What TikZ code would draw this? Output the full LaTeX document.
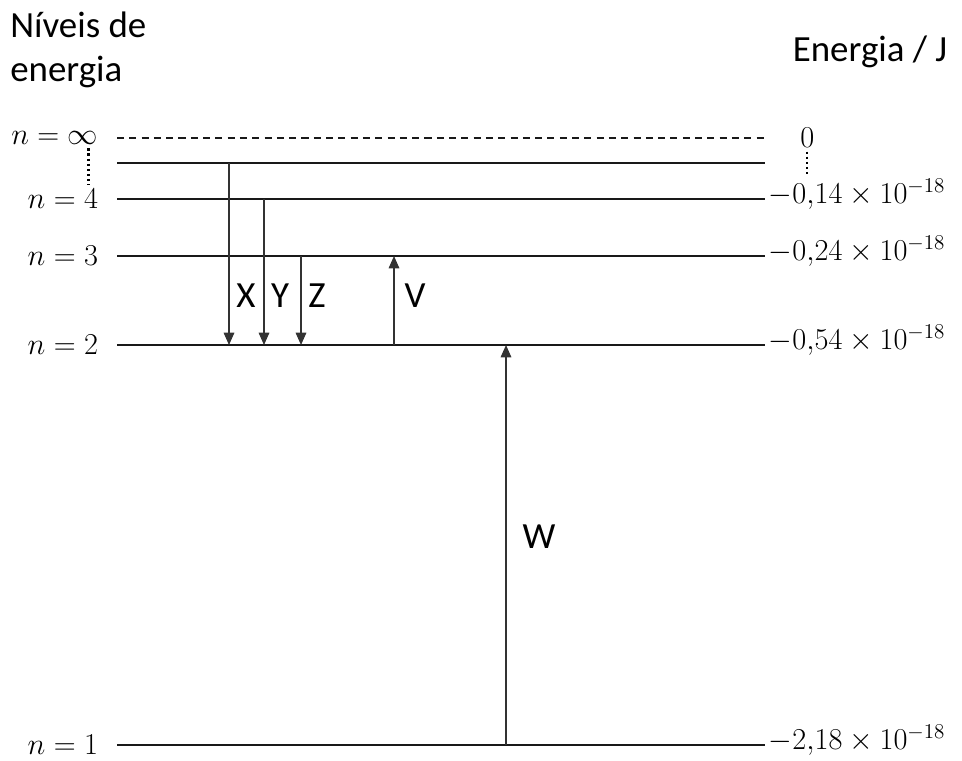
\documentclass[tikz,border=0pt]{standalone}
\usepackage{fontspec}
\setmainfont{Carlito}
\usetikzlibrary{positioning,arrows.meta}

\begin{document}
\begin{tikzpicture}[x=0.02cm, y=-0.02cm,
    lvl/.style={line width=1.6pt, draw=black!90},
    trans/.style={-{Triangle[length=7pt,width=6pt]}, line width=0.8pt, draw=black!80, fill=black},
    vdots/.style={line width=1.3pt, dash pattern=on 1.3pt off 1.6pt},
    nlab/.style={font=\fontsize{18}{22}\selectfont, inner sep=2pt},
    txt/.style={font=\fontsize{21}{25}\selectfont, inner sep=0pt},
  ]
  \useasboundingbox (0,0) rectangle (962,760);
  % níveis de energia
  \coordinate (inf-l) at (117,138);
  \coordinate (inf-r) at (764,138);
  \draw[line width=1.2pt, draw=black!90, dash pattern=on 4pt off 3pt] (inf-l) -- (inf-r);
  \foreach \k/\y in {5/163,4/199,3/256,2/345,1/745} {
    \coordinate (n\k-l) at (117,\y);
    \coordinate (n\k-r) at (765,\y);
    \draw[lvl] (n\k-l) -- (n\k-r);
  }
  % rótulos
  \node[nlab, left=0.3cm of inf-l] (t-inf) {$n=\infty$};
  \foreach \k in {4,3,2,1}
    \node[nlab, left=0.3cm of n\k-l] (t\k) {$n=\k$};
  \node[nlab, right=0.65cm of inf-r] (e-inf) {$0$};
  \foreach \k/\e in {4/{0{,}14},3/{0{,}24},2/{0{,}54},1/{2{,}18}}
    \node[nlab, right=0pt of n\k-r, anchor=mid west] (e\k) {$-\e\times10^{-18}$};
  \draw[vdots] ([xshift=-0.27cm]t-inf.south east) -- ([xshift=-0.27cm]t-inf.south east |- t4.north);
  \draw[vdots] (e-inf.south) -- (e-inf.south |- e4.north);
  \node[txt, anchor=north west, align=left] (niveis) at (10,12) {Níveis de\\energia};
  \node[txt] (energia) at (870,52) {Energia / J};
  % transições
  \foreach \x/\from/\to in {229/5/2,264/4/2,301/3/2,394/2/3,506/1/2}
    \draw[trans] (\x,0 |- n\from-l) -- (\x,0 |- n\to-l);
  \node[txt] (lX) at (246,296) {X};
  \node[txt] (lY) at (280,296) {Y};
  \node[txt] (lZ) at (317,296) {Z};
  \node[txt] (lV) at (415,296) {V};
  \node[txt] (lW) at (539,537) {W};
\end{tikzpicture}
\end{document}
